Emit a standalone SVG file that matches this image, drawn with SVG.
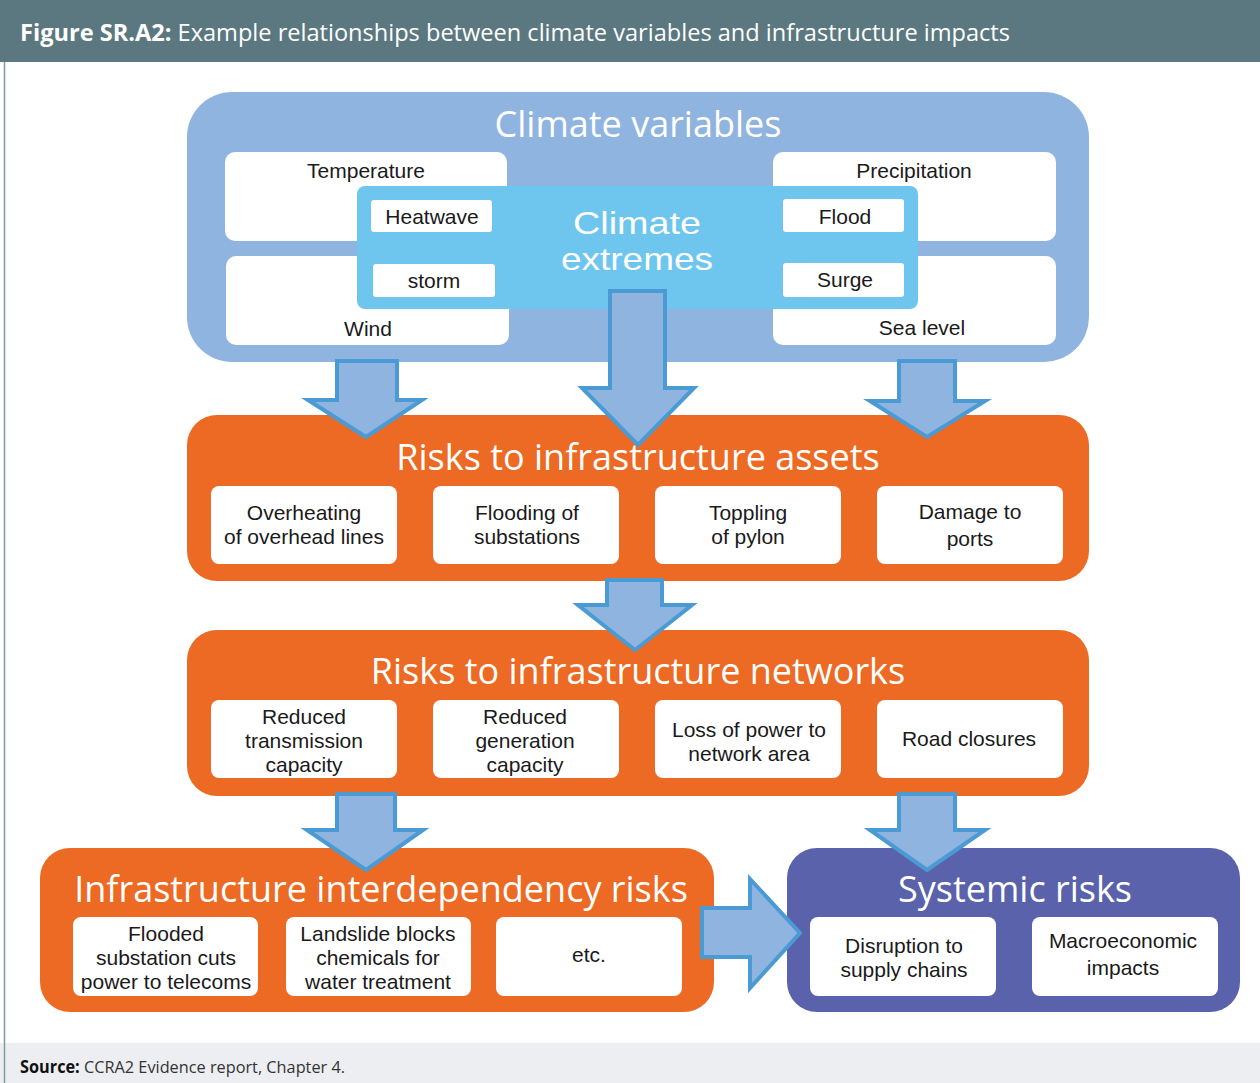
<svg xmlns="http://www.w3.org/2000/svg" width="1260" height="1083" viewBox="0 0 1260 1083">
<style>
text{font-family:"Open Sans","Noto Sans",sans-serif;}
.t{fill:#fff;font-size:36px;text-anchor:middle;}
.ce{fill:#fff;font-size:32px;text-anchor:middle;font-family:"Liberation Sans",Arial,sans-serif;}
.s{fill:#1a1a1a;font-size:21px;text-anchor:middle;font-family:"Liberation Sans",Arial,sans-serif;}
.wb{fill:#fff;}
.arr{fill:#8fb4e0;stroke:#4a9ad4;stroke-width:4;stroke-linejoin:miter;}
.cv{fill:#8fb4e0;}
.or{fill:#ec6a23;}
</style>
<rect x="0" y="0" width="1260" height="1083" fill="#fff"/>
<rect x="0" y="0" width="1260" height="62" fill="#5b7880"/>
<text x="20" y="41" font-size="24" fill="#fff" textLength="990" lengthAdjust="spacingAndGlyphs"><tspan font-weight="bold">Figure SR.A2:</tspan> Example relationships between climate variables and infrastructure impacts</text>
<rect x="0" y="1043" width="1260" height="40" fill="#eceef1"/>
<line x1="4.5" y1="62" x2="4.5" y2="1083" stroke="#7f9aa0" stroke-width="1.5"/>
<text x="20" y="1073" font-size="17" fill="#333" textLength="325" lengthAdjust="spacingAndGlyphs"><tspan font-weight="bold" fill="#111">Source:</tspan> CCRA2 Evidence report, Chapter 4.</text>

<g id="climate-variables">
<rect class="cv" x="187" y="92" width="902" height="270" rx="45"/>
<text class="t" x="638" y="137">Climate variables</text>
<rect class="wb" x="225" y="152" width="282" height="89" rx="10"/>
<text class="s" x="366" y="178">Temperature</text>
<rect class="wb" x="226" y="256" width="283" height="89" rx="10"/>
<text class="s" x="368" y="336">Wind</text>
<rect class="wb" x="773" y="152" width="283" height="89" rx="10"/>
<text class="s" x="914" y="178">Precipitation</text>
<rect class="wb" x="773" y="256" width="283" height="89" rx="10"/>
<text class="s" x="922" y="335">Sea level</text>
</g>

<g id="climate-extremes">
<rect x="357" y="186" width="561" height="123" rx="8" fill="#6ec6ef"/>
<text class="ce" x="637" y="234" textLength="128" lengthAdjust="spacingAndGlyphs">Climate</text>
<text class="ce" x="637" y="270" textLength="152" lengthAdjust="spacingAndGlyphs">extremes</text>
<rect class="wb" x="371" y="200" width="121" height="32" rx="3"/>
<text class="s" x="432" y="224">Heatwave</text>
<rect class="wb" x="373" y="264" width="122" height="33" rx="3"/>
<text class="s" x="434" y="288">storm</text>
<rect class="wb" x="783" y="199" width="121" height="33" rx="3"/>
<text class="s" x="845" y="224">Flood</text>
<rect class="wb" x="783" y="263" width="121" height="34" rx="3"/>
<text class="s" x="845" y="287">Surge</text>
</g>

<g id="assets">
<rect class="or" x="187" y="415" width="902" height="166" rx="30"/>
<text class="t" x="638" y="470">Risks to infrastructure assets</text>
<rect class="wb" x="211" y="486" width="186" height="78" rx="8"/>
<text class="s" x="304" y="520">Overheating</text><text class="s" x="304" y="544">of overhead lines</text>
<rect class="wb" x="433" y="486" width="186" height="78" rx="8"/>
<text class="s" x="527" y="520">Flooding of</text><text class="s" x="527" y="544">substations</text>
<rect class="wb" x="655" y="486" width="186" height="78" rx="8"/>
<text class="s" x="748" y="520">Toppling</text><text class="s" x="748" y="544">of pylon</text>
<rect class="wb" x="877" y="486" width="186" height="78" rx="8"/>
<text class="s" x="970" y="519">Damage to</text><text class="s" x="970" y="546">ports</text>
</g>

<g id="networks">
<rect class="or" x="187" y="630" width="902" height="166" rx="30"/>
<text class="t" x="638" y="684">Risks to infrastructure networks</text>
<rect class="wb" x="211" y="700" width="186" height="78" rx="8"/>
<text class="s" x="304" y="724">Reduced</text><text class="s" x="304" y="748">transmission</text><text class="s" x="304" y="772">capacity</text>
<rect class="wb" x="433" y="700" width="186" height="78" rx="8"/>
<text class="s" x="525" y="724">Reduced</text><text class="s" x="525" y="748">generation</text><text class="s" x="525" y="772">capacity</text>
<rect class="wb" x="655" y="700" width="186" height="78" rx="8"/>
<text class="s" x="749" y="737">Loss of power to</text><text class="s" x="749" y="761">network area</text>
<rect class="wb" x="877" y="700" width="186" height="78" rx="8"/>
<text class="s" x="969" y="746">Road closures</text>
</g>

<g id="interdependency">
<rect class="or" x="40" y="848" width="674" height="164" rx="30"/>
<text class="t" x="381" y="902">Infrastructure interdependency risks</text>
<rect class="wb" x="73" y="917" width="185" height="79" rx="8"/>
<text class="s" x="166" y="941">Flooded</text><text class="s" x="166" y="965">substation cuts</text><text class="s" x="166" y="989">power to telecoms</text>
<rect class="wb" x="286" y="917" width="185" height="79" rx="8"/>
<text class="s" x="378" y="941">Landslide blocks</text><text class="s" x="378" y="965">chemicals for</text><text class="s" x="378" y="989">water treatment</text>
<rect class="wb" x="496" y="917" width="186" height="79" rx="8"/>
<text class="s" x="589" y="962">etc.</text>
</g>

<g id="systemic">
<rect x="787" y="848" width="453" height="164" rx="30" fill="#5962aa"/>
<text class="t" x="1015" y="902">Systemic risks</text>
<rect class="wb" x="810" y="917" width="186" height="79" rx="8"/>
<text class="s" x="904" y="953">Disruption to</text><text class="s" x="904" y="977">supply chains</text>
<rect class="wb" x="1032" y="917" width="186" height="79" rx="8"/>
<text class="s" x="1123" y="948">Macroeconomic</text><text class="s" x="1123" y="975">impacts</text>
</g>

<g id="connectors">
<polygon class="arr" points="337,361 397,361 397,400 422,400 366,437 308,400 337,400"/>
<polygon class="arr" points="610,291 665,291 665,388 694,388 638,445 582,388 610,388"/>
<polygon class="arr" points="899,361 955,361 955,401 985,401 927,437 870,401 899,401"/>
<polygon class="arr" points="607,580 662,580 662,605 692,605 635,650 578,605 607,605"/>
<polygon class="arr" points="337,794 395,794 395,830 423,830 366,870 307,830 337,830"/>
<polygon class="arr" points="899,794 955,794 955,830 985,830 927,870 870,830 899,830"/>
<polygon class="arr" points="702,908 750,908 750,879 800,933 750,988 750,957 702,957"/>
</g>
</svg>
